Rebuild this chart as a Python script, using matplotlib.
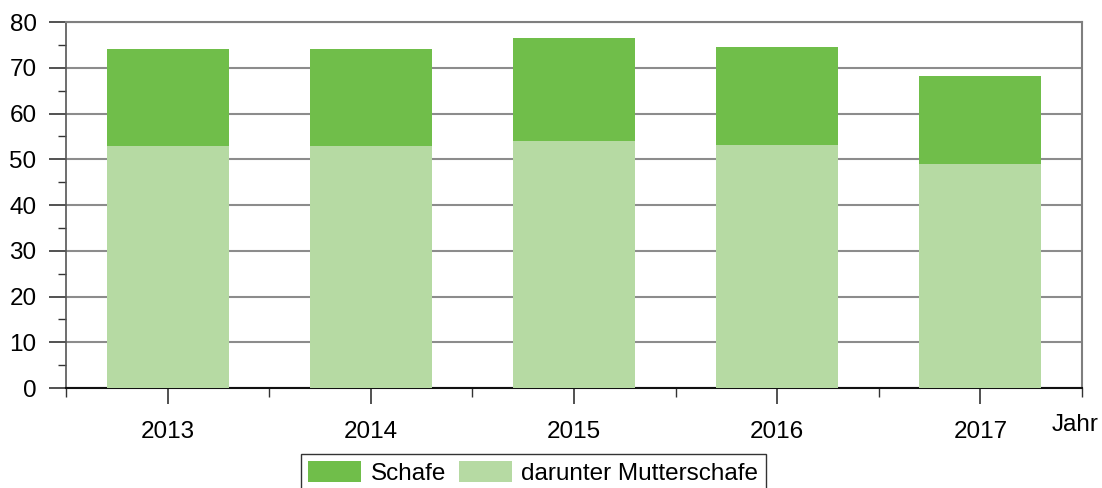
import numpy as np
from matplotlib import pyplot as plt

plt.rcParams['font.family'] = ['Liberation Sans', 'DejaVu Sans']

# Schafe (in 1000), Bestand nach Jahren
jahre = ["2013", "2014", "2015", "2016", "2017"]
schafe = [74.1, 74.0, 76.5, 74.5, 68.2]
mutterschafe = [52.9, 52.8, 54.0, 53.1, 49.0]

col_schafe = "#70BE4A"
col_mutter = "#B6DAA3"
fs = 17.5

fig = plt.figure(figsize=(11.02, 4.88), dpi=100, facecolor='white')
ax = fig.add_axes([0.0599, 0.2049, 0.922, 0.75])

x = np.arange(len(jahre))
ax.bar(x, schafe, width=0.6, color=col_schafe, label="Schafe", zorder=2)
ax.bar(x, mutterschafe, width=0.6, color=col_mutter, label="darunter Mutterschafe", zorder=3)

ax.set_xlim(-0.5, len(jahre) - 0.5)
ax.set_ylim(0, 80)
ax.set_yticks(np.arange(0, 81, 10))
ax.set_yticks(np.arange(5, 80, 10), minor=True)
ax.set_xticks(x)
ax.set_xticklabels(jahre)
ax.set_xticks(np.arange(-0.5, len(jahre)), minor=True)

ax.grid(axis='y', which='major', color='#8c8c8c', linewidth=1.5, zorder=1)
ax.set_axisbelow(True)

ax.tick_params(axis='y', which='major', length=12.2, width=1.2, labelsize=fs, pad=9, color='#333333')
ax.tick_params(axis='y', which='minor', length=5.8, width=1.0, color='#333333')
ax.tick_params(axis='x', which='major', length=11.5, width=1.2, labelsize=fs, pad=12, color='#333333')
ax.tick_params(axis='x', which='minor', length=6.2, width=1.0, color='#333333')

for side in ['top', 'right']:
    ax.spines[side].set_color('#7f7f7f')
    ax.spines[side].set_linewidth(1.5)
ax.spines['left'].set_color('#555555')
ax.spines['left'].set_linewidth(1.2)
ax.spines['bottom'].set_color('#111111')
ax.spines['bottom'].set_linewidth(1.5)

fig.text(1075 / 1102, 1 - 425 / 488, "Jahr", fontsize=fs, ha='center', va='center')

leg = fig.legend(loc='upper center', bbox_to_anchor=(0.484, 1 - 454 / 488), ncol=2,
                 fontsize=fs, frameon=True, fancybox=False, edgecolor='black',
                 handlelength=2.18, handleheight=0.95, handletextpad=0.4,
                 columnspacing=0.5, borderpad=0.3, borderaxespad=0)
leg.get_frame().set_linewidth(1.0)

plt.savefig("out.png", dpi=100, facecolor='white')
plt.close(fig)
